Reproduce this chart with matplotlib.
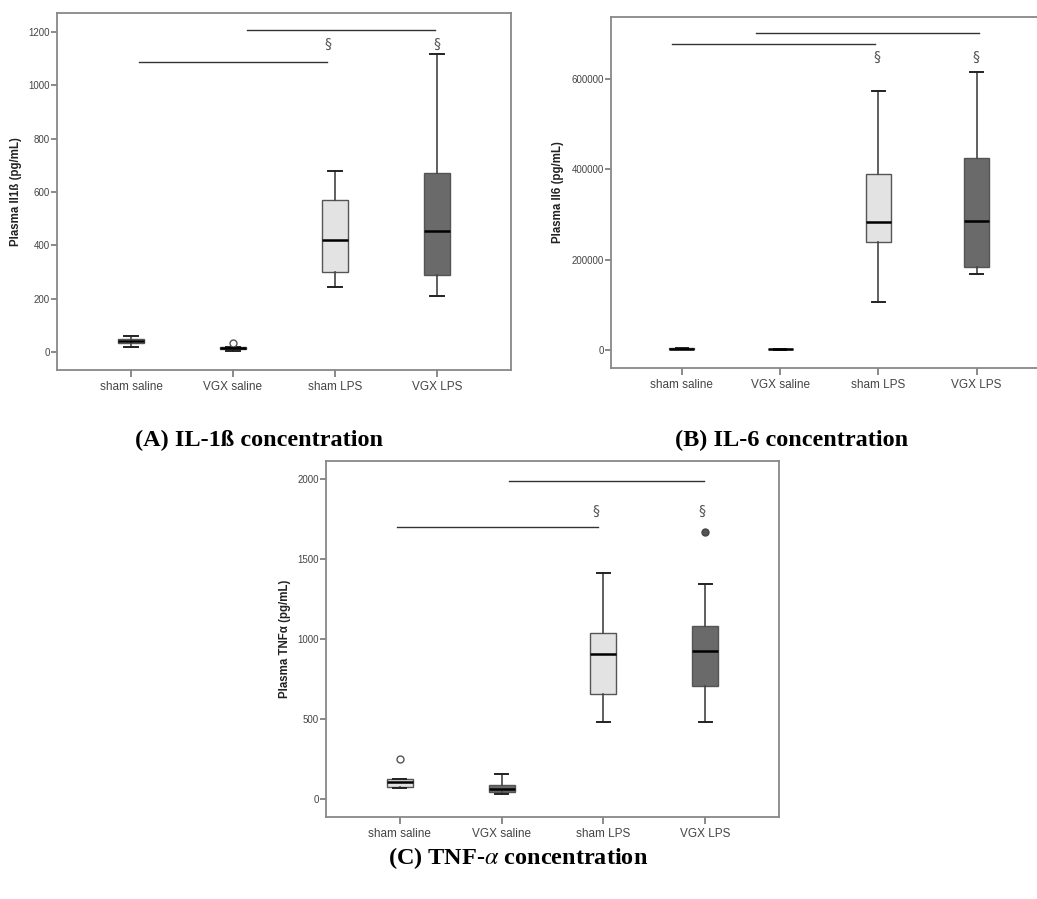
import numpy as np
import matplotlib.pyplot as plt

plt.rcParams['font.family'] = ['Liberation Sans', 'DejaVu Sans']
plt.rcParams['mathtext.fontset'] = 'stix'

groups = ["sham saline", "VGX saline", "sham LPS", "VGX LPS"]
box_colors = ["#e3e3e3", "#6a6a6a", "#e3e3e3", "#6a6a6a"]
# outliers drawn filled (extreme) or open
flier_filled = [False, False, False, True]

# box stats per group: whislo, q1, median, q3, whishi
il1b_stats = [[21, 34, 40, 49, 62],
              [6, 12, 15, 18, 20],
              [243, 302, 420, 572, 678],
              [211, 289, 454, 671, 1119]]
il1b_fliers = [[], [34], [], []]

il6_stats = [[1000, 1800, 2500, 3500, 4500],
             [300, 700, 1000, 1300, 1600],
             [105700, 238700, 282300, 390100, 574900],
             [167700, 182500, 286000, 425600, 616200]]
il6_fliers = [[], [], [], []]

tnf_stats = [[67, 73, 104, 123, 125],
             [31, 42, 62, 88, 154],
             [479, 656, 904, 1037, 1410],
             [479, 706, 923, 1083, 1344]]
tnf_fliers = [[248], [], [], [1669]]

# significance bars: (x0, x1, y) and § marks: (x, y)
il1b_bars = [(1.08, 2.92, 1089), (2.14, 3.98, 1207)]
il1b_marks = [(2.93, 1156), (4.0, 1156)]
il6_bars = [(0.9, 2.97, 677600), (1.75, 4.03, 702000)]
il6_marks = [(2.99, 650200), (3.99, 650200)]
tnf_bars = [(0.97, 2.95, 1702), (2.07, 3.99, 1985)]
tnf_marks = [(2.93, 1802), (3.97, 1802)]

W, H = 1037, 899
fig = plt.figure(figsize=(W / 100, H / 100), dpi=100)


def px_axes(left, right, top, bottom):
    return fig.add_axes([left / W, 1 - bottom / H, (right - left) / W, (bottom - top) / H])


def panel(ax, stats, fliers, bars, marks, ylim, yticks, ylabel):
    bxp_stats = []
    for g, s, f in zip(groups, stats, fliers):
        bxp_stats.append(dict(label=g, whislo=s[0], q1=s[1], med=s[2], q3=s[3], whishi=s[4], fliers=f))
    bp = ax.bxp(bxp_stats, positions=[1, 2, 3, 4], widths=0.255, patch_artist=True,
                showfliers=True,
                boxprops=dict(edgecolor="#555555", linewidth=1.0),
                medianprops=dict(color="black", linewidth=1.8),
                whiskerprops=dict(color="#444444", linewidth=1.2),
                capprops=dict(color="#222222", linewidth=1.4),
                capwidths=0.13,
                flierprops=dict(marker="o", markersize=5, markerfacecolor="white",
                                markeredgecolor="#555555", markeredgewidth=1.0))
    for patch, c in zip(bp["boxes"], box_colors):
        patch.set_facecolor(c)
    for fl, filled in zip(bp["fliers"], flier_filled):
        if filled:
            fl.set_markerfacecolor("#555555")
            fl.set_markeredgecolor("#444444")
    for x0, x1, y in bars:
        ax.plot([x0, x1], [y, y], color="#333333", linewidth=1.0)
    for x, y in marks:
        ax.text(x, y, "§", ha="center", va="center", fontsize=10, color="#555555",
                family=["DejaVu Sans"])
    ax.set_xlim(0.275, 4.725)
    ax.set_ylim(*ylim)
    ax.set_yticks(yticks)
    ax.set_xticks([1, 2, 3, 4])
    ax.set_xticklabels(groups)
    ax.tick_params(axis="y", labelsize=7, colors="#777777", labelcolor="#444444",
                   length=4, width=1.2, direction="out", pad=1)
    ax.tick_params(axis="x", labelsize=8.5, colors="#777777", labelcolor="#444444",
                   length=5, width=1.2, direction="out", pad=3)
    for sp in ax.spines.values():
        sp.set_color("#888888")
        sp.set_linewidth(1.3)
    ax.set_ylabel(ylabel, fontsize=8.3, fontweight="bold", color="#222222", labelpad=5)


axA = px_axes(57, 511, 13, 370)
panel(axA, il1b_stats, il1b_fliers, il1b_bars, il1b_marks, (-67, 1271),
      [0, 200, 400, 600, 800, 1000, 1200], "Plasma Il1ß (pg/mL)")

axB = px_axes(610.7, 1047.7, 16.7, 368)
panel(axB, il6_stats, il6_fliers, il6_bars, il6_marks, (-40600, 739000),
      [0, 200000, 400000, 600000], "Plasma Il6 (pg/mL)")
axB.spines["right"].set_visible(False)

axC = px_axes(326, 779, 460.7, 816.7)
panel(axC, tnf_stats, tnf_fliers, tnf_bars, tnf_marks, (-110, 2114),
      [0, 500, 1000, 1500, 2000], "Plasma TNFα (pg/mL)")

cap = dict(ha="center", va="center", fontsize=17.5, fontweight="bold",
           family=["Liberation Serif", "DejaVu Serif"], color="black")
fig.text(259 / W, 1 - 440 / H, "(A) IL-1ß concentration", **cap)
fig.text(792 / W, 1 - 440 / H, "(B) IL-6 concentration", **cap)
fig.text(518 / W, 1 - 858 / H, r"(C) TNF-$\alpha$ concentration", **cap)

fig.savefig("out.png", dpi=100)
